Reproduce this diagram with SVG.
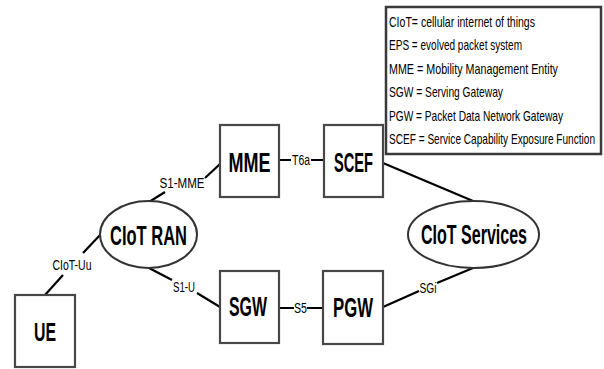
<svg xmlns="http://www.w3.org/2000/svg" width="604" height="369" viewBox="0 0 604 369">
  <style>
    .box { fill: #ffffff; stroke: #474747; stroke-width: 2.2; }
    .ell { fill: #ffffff; stroke: #333333; stroke-width: 2; }
    .link { stroke: #000000; stroke-width: 2.2; fill: none; }
    .name { font-family: "Liberation Sans Narrow", "Liberation Sans", Arial, sans-serif; font-weight: bold; fill: #000; text-anchor: middle; }
    .lbl { font-family: "Liberation Sans Narrow", "Liberation Sans", Arial, sans-serif; font-size: 14px; fill: #000; text-anchor: middle; }
    .leg { font-family: "Liberation Sans Narrow", "Liberation Sans", Arial, sans-serif; font-size: 10px; fill: #000; }
  </style>
  <rect width="604" height="369" fill="#ffffff"/>

  <!-- interfaces between network elements -->
  <g id="connectors">
    <path class="link" d="M45,295 L63,275 M83,253 L101,234"/>
    <text class="lbl" x="72" y="270" textLength="39" lengthAdjust="spacingAndGlyphs">CIoT-Uu</text>

    <path class="link" d="M149,202 L165,192 M205,178 L220,164"/>
    <text class="lbl" x="182" y="188" textLength="45" lengthAdjust="spacingAndGlyphs">S1-MME</text>

    <path class="link" d="M149,268 L172,280 M197,293 L220,307"/>
    <text class="lbl" x="184" y="292" textLength="22" lengthAdjust="spacingAndGlyphs">S1-U</text>

    <path class="link" d="M279,160 L291,160 M311,160 L324,160"/>
    <text class="lbl" x="301" y="165" textLength="18" lengthAdjust="spacingAndGlyphs">T6a</text>

    <path class="link" d="M279,308 L294,308 M307,308 L323,308"/>
    <text class="lbl" x="300.5" y="313" textLength="13" lengthAdjust="spacingAndGlyphs">S5</text>

    <path class="link" d="M383,163 L473,201"/>

    <path class="link" d="M383,307 L419,291 M437,283 L473,268"/>
    <text class="lbl" x="428" y="293" textLength="17" lengthAdjust="spacingAndGlyphs">SGi</text>
  </g>

  <g id="ue">
    <rect class="box" x="15" y="295" width="60" height="72"/>
    <text class="name" x="45" y="341" font-size="25" textLength="22" lengthAdjust="spacingAndGlyphs">UE</text>
  </g>

  <g id="ciot-ran">
    <ellipse class="ell" cx="148.5" cy="234.5" rx="48.5" ry="33.5"/>
    <text class="name" x="148.5" y="245" font-size="27" textLength="77" lengthAdjust="spacingAndGlyphs">CIoT RAN</text>
  </g>

  <g id="mme">
    <rect class="box" x="220" y="125" width="59" height="72"/>
    <text class="name" x="249.5" y="172" font-size="27" textLength="42" lengthAdjust="spacingAndGlyphs">MME</text>
  </g>

  <g id="scef">
    <rect class="box" x="324" y="125" width="59" height="72"/>
    <text class="name" x="353.5" y="172" font-size="27" textLength="39" lengthAdjust="spacingAndGlyphs">SCEF</text>
  </g>

  <g id="sgw">
    <rect class="box" x="220" y="271" width="59" height="72"/>
    <text class="name" x="248" y="316" font-size="27" textLength="38" lengthAdjust="spacingAndGlyphs">SGW</text>
  </g>

  <g id="pgw">
    <rect class="box" x="323" y="271" width="60" height="73"/>
    <text class="name" x="353" y="317" font-size="27" textLength="40" lengthAdjust="spacingAndGlyphs">PGW</text>
  </g>

  <g id="ciot-services">
    <ellipse class="ell" cx="473.5" cy="234.5" rx="65.5" ry="33.5"/>
    <text class="name" x="474" y="244" font-size="27" textLength="106" lengthAdjust="spacingAndGlyphs">CIoT Services</text>
  </g>

  <!-- abbreviation key: narrow text, stretched vertically -->
  <g id="legend">
    <rect x="386" y="7" width="215" height="147" fill="#ffffff" stroke="#3a3a3a" stroke-width="2.5"/>
    <g transform="scale(1,1.4)">
      <text class="leg" x="389" y="19.29" textLength="146" lengthAdjust="spacingAndGlyphs">CIoT= cellular internet of things</text>
      <text class="leg" x="389" y="35.71" textLength="133" lengthAdjust="spacingAndGlyphs">EPS = evolved packet system</text>
      <text class="leg" x="389" y="52.86" textLength="169" lengthAdjust="spacingAndGlyphs">MME = Mobility Management Entity</text>
      <text class="leg" x="389" y="69.29" textLength="114" lengthAdjust="spacingAndGlyphs">SGW = Serving Gateway</text>
      <text class="leg" x="389" y="86.43" textLength="174" lengthAdjust="spacingAndGlyphs">PGW = Packet Data Network Gateway</text>
      <text class="leg" x="389" y="102.86" textLength="206" lengthAdjust="spacingAndGlyphs">SCEF = Service Capability Exposure Function</text>
    </g>
  </g>
</svg>
